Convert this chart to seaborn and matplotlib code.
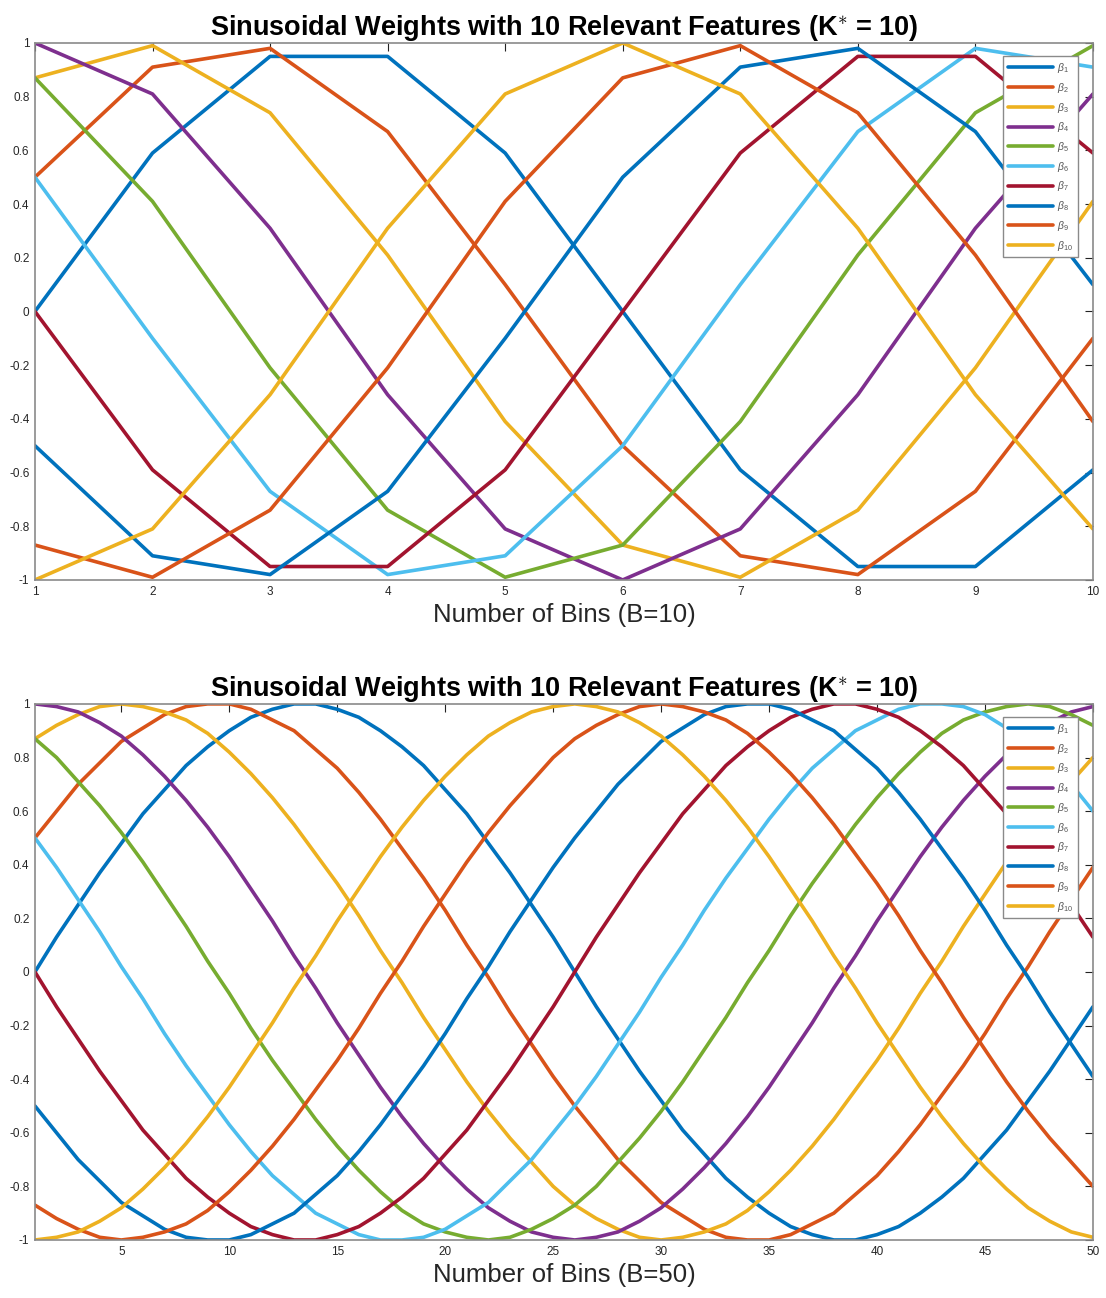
import numpy as np
import pandas as pd
import matplotlib
matplotlib.use("Agg")
import matplotlib.pyplot as plt
import seaborn as sns

# ---------------- data ----------------
x_b10 = list(range(1, 11))
b10_beta1 = [0.00, 0.59, 0.95, 0.95, 0.59, 0.00, -0.59, -0.95, -0.95, -0.59]
b10_beta2 = [0.50, 0.91, 0.98, 0.67, 0.10, -0.50, -0.91, -0.98, -0.67, -0.10]
b10_beta3 = [0.87, 0.99, 0.74, 0.21, -0.41, -0.87, -0.99, -0.74, -0.21, 0.41]
b10_beta4 = [1.00, 0.81, 0.31, -0.31, -0.81, -1.00, -0.81, -0.31, 0.31, 0.81]
b10_beta5 = [0.87, 0.41, -0.21, -0.74, -0.99, -0.87, -0.41, 0.21, 0.74, 0.99]
b10_beta6 = [0.50, -0.10, -0.67, -0.98, -0.91, -0.50, 0.10, 0.67, 0.98, 0.91]
b10_beta7 = [0.00, -0.59, -0.95, -0.95, -0.59, 0.00, 0.59, 0.95, 0.95, 0.59]
b10_beta8 = [-0.50, -0.91, -0.98, -0.67, -0.10, 0.50, 0.91, 0.98, 0.67, 0.10]
b10_beta9 = [-0.87, -0.99, -0.74, -0.21, 0.41, 0.87, 0.99, 0.74, 0.21, -0.41]
b10_beta10 = [-1.00, -0.81, -0.31, 0.31, 0.81, 1.00, 0.81, 0.31, -0.31, -0.81]

x_b50 = list(range(1, 51))
b50_beta1 = [0.00, 0.13, 0.25, 0.37, 0.48, 0.59, 0.68, 0.77, 0.84, 0.90,
             0.95, 0.98, 1.00, 1.00, 0.98, 0.95, 0.90, 0.84, 0.77, 0.68,
             0.59, 0.48, 0.37, 0.25, 0.13, 0.00, -0.13, -0.25, -0.37, -0.48,
             -0.59, -0.68, -0.77, -0.84, -0.90, -0.95, -0.98, -1.00, -1.00, -0.98,
             -0.95, -0.90, -0.84, -0.77, -0.68, -0.59, -0.48, -0.37, -0.25, -0.13]
b50_beta2 = [0.50, 0.60, 0.70, 0.78, 0.86, 0.91, 0.96, 0.99, 1.00, 1.00,
             0.98, 0.94, 0.90, 0.83, 0.76, 0.67, 0.57, 0.46, 0.35, 0.23,
             0.10, -0.02, -0.15, -0.27, -0.39, -0.50, -0.60, -0.70, -0.78, -0.86,
             -0.91, -0.96, -0.99, -1.00, -1.00, -0.98, -0.94, -0.90, -0.83, -0.76,
             -0.67, -0.57, -0.46, -0.35, -0.23, -0.10, 0.02, 0.15, 0.27, 0.39]
b50_beta3 = [0.87, 0.92, 0.96, 0.99, 1.00, 0.99, 0.97, 0.94, 0.89, 0.82,
             0.74, 0.65, 0.55, 0.44, 0.33, 0.21, 0.08, -0.04, -0.17, -0.29,
             -0.41, -0.52, -0.62, -0.71, -0.80, -0.87, -0.92, -0.96, -0.99, -1.00,
             -0.99, -0.97, -0.94, -0.89, -0.82, -0.74, -0.65, -0.55, -0.44, -0.33,
             -0.21, -0.08, 0.04, 0.17, 0.29, 0.41, 0.52, 0.62, 0.71, 0.80]
b50_beta4 = [1.00, 0.99, 0.97, 0.93, 0.88, 0.81, 0.73, 0.64, 0.54, 0.43,
             0.31, 0.19, 0.06, -0.06, -0.19, -0.31, -0.43, -0.54, -0.64, -0.73,
             -0.81, -0.88, -0.93, -0.97, -0.99, -1.00, -0.99, -0.97, -0.93, -0.88,
             -0.81, -0.73, -0.64, -0.54, -0.43, -0.31, -0.19, -0.06, 0.06, 0.19,
             0.31, 0.43, 0.54, 0.64, 0.73, 0.81, 0.88, 0.93, 0.97, 0.99]
b50_beta5 = [0.87, 0.80, 0.71, 0.62, 0.52, 0.41, 0.29, 0.17, 0.04, -0.08,
             -0.21, -0.33, -0.44, -0.55, -0.65, -0.74, -0.82, -0.89, -0.94, -0.97,
             -0.99, -1.00, -0.99, -0.96, -0.92, -0.87, -0.80, -0.71, -0.62, -0.52,
             -0.41, -0.29, -0.17, -0.04, 0.08, 0.21, 0.33, 0.44, 0.55, 0.65,
             0.74, 0.82, 0.89, 0.94, 0.97, 0.99, 1.00, 0.99, 0.96, 0.92]
b50_beta6 = [0.50, 0.39, 0.27, 0.15, 0.02, -0.10, -0.23, -0.35, -0.46, -0.57,
             -0.67, -0.76, -0.83, -0.90, -0.94, -0.98, -1.00, -1.00, -0.99, -0.96,
             -0.91, -0.86, -0.78, -0.70, -0.60, -0.50, -0.39, -0.27, -0.15, -0.02,
             0.10, 0.23, 0.35, 0.46, 0.57, 0.67, 0.76, 0.83, 0.90, 0.94,
             0.98, 1.00, 1.00, 0.99, 0.96, 0.91, 0.86, 0.78, 0.70, 0.60]
b50_beta7 = [0.00, -0.13, -0.25, -0.37, -0.48, -0.59, -0.68, -0.77, -0.84, -0.90,
             -0.95, -0.98, -1.00, -1.00, -0.98, -0.95, -0.90, -0.84, -0.77, -0.68,
             -0.59, -0.48, -0.37, -0.25, -0.13, 0.00, 0.13, 0.25, 0.37, 0.48,
             0.59, 0.68, 0.77, 0.84, 0.90, 0.95, 0.98, 1.00, 1.00, 0.98,
             0.95, 0.90, 0.84, 0.77, 0.68, 0.59, 0.48, 0.37, 0.25, 0.13]
b50_beta8 = [-0.50, -0.60, -0.70, -0.78, -0.86, -0.91, -0.96, -0.99, -1.00, -1.00,
             -0.98, -0.94, -0.90, -0.83, -0.76, -0.67, -0.57, -0.46, -0.35, -0.23,
             -0.10, 0.02, 0.15, 0.27, 0.39, 0.50, 0.60, 0.70, 0.78, 0.86,
             0.91, 0.96, 0.99, 1.00, 1.00, 0.98, 0.94, 0.90, 0.83, 0.76,
             0.67, 0.57, 0.46, 0.35, 0.23, 0.10, -0.02, -0.15, -0.27, -0.39]
b50_beta9 = [-0.87, -0.92, -0.96, -0.99, -1.00, -0.99, -0.97, -0.94, -0.89, -0.82,
             -0.74, -0.65, -0.55, -0.44, -0.33, -0.21, -0.08, 0.04, 0.17, 0.29,
             0.41, 0.52, 0.62, 0.71, 0.80, 0.87, 0.92, 0.96, 0.99, 1.00,
             0.99, 0.97, 0.94, 0.89, 0.82, 0.74, 0.65, 0.55, 0.44, 0.33,
             0.21, 0.08, -0.04, -0.17, -0.29, -0.41, -0.52, -0.62, -0.71, -0.80]
b50_beta10 = [-1.00, -0.99, -0.97, -0.93, -0.88, -0.81, -0.73, -0.64, -0.54, -0.43,
              -0.31, -0.19, -0.06, 0.06, 0.19, 0.31, 0.43, 0.54, 0.64, 0.73,
              0.81, 0.88, 0.93, 0.97, 0.99, 1.00, 0.99, 0.97, 0.93, 0.88,
              0.81, 0.73, 0.64, 0.54, 0.43, 0.31, 0.19, 0.06, -0.06, -0.19,
              -0.31, -0.43, -0.54, -0.64, -0.73, -0.81, -0.88, -0.93, -0.97, -0.99]

series_labels = [r'$\beta_{%d}$' % i for i in range(1, 11)]
y_ticks = [-1, -0.8, -0.6, -0.4, -0.2, 0, 0.2, 0.4, 0.6, 0.8, 1]
y_ticklabels = ['-1', '-0.8', '-0.6', '-0.4', '-0.2', '0', '0.2', '0.4', '0.6', '0.8', '1']
x_ticks_b10 = list(range(1, 11))
x_ticks_b50 = [5, 10, 15, 20, 25, 30, 35, 40, 45, 50]
title_text = r'Sinusoidal Weights with 10 Relevant Features (K$^{\ast}$ = 10)'

colors = ['#0072BD', '#D95319', '#EDB120', '#7E2F8E', '#77AC30',
          '#4DBEEE', '#A2142F', '#0072BD', '#D95319', '#EDB120']

b10_all = [b10_beta1, b10_beta2, b10_beta3, b10_beta4, b10_beta5,
           b10_beta6, b10_beta7, b10_beta8, b10_beta9, b10_beta10]
b50_all = [b50_beta1, b50_beta2, b50_beta3, b50_beta4, b50_beta5,
           b50_beta6, b50_beta7, b50_beta8, b50_beta9, b50_beta10]


def long_df(xs, all_series):
    rows = []
    for lab, ys in zip(series_labels, all_series):
        for xv, yv in zip(xs, ys):
            rows.append((xv, yv, lab))
    return pd.DataFrame(rows, columns=['bin', 'weight', 'feature'])


df10 = long_df(x_b10, b10_all)
df50 = long_df(x_b50, b50_all)

# ---------------- style ----------------
sns.set_style('white')
plt.rcParams['font.family'] = ['Liberation Sans', 'DejaVu Sans']
plt.rcParams['mathtext.fontset'] = 'custom'
plt.rcParams['mathtext.rm'] = 'Liberation Sans'
plt.rcParams['mathtext.it'] = 'Liberation Sans:italic'
plt.rcParams['mathtext.bf'] = 'Liberation Sans:bold'

fig = plt.figure(figsize=(11.06, 12.98), dpi=100)
ax1 = fig.add_axes([0.0316, 0.5532, 0.9566, 0.4137])
ax2 = fig.add_axes([0.0316, 0.0447, 0.9566, 0.4130])

spine_col = '#8a8a8a'


def style_ax(ax, df, xlim, xticks, xlabel):
    sns.lineplot(data=df, x='bin', y='weight', hue='feature',
                 hue_order=series_labels, palette=colors, linewidth=2.6,
                 ax=ax, legend=False, estimator=None, sort=False)
    ax.set_xlim(*xlim)
    ax.set_ylim(-1, 1)
    ax.set_xticks(xticks)
    ax.set_xticklabels([str(t) for t in xticks])
    ax.set_yticks(y_ticks)
    ax.set_yticklabels(y_ticklabels)
    ax.tick_params(axis='both', which='both', direction='in', length=6,
                   width=0.8, color='#222222', labelsize=8.5, labelcolor='#262626',
                   top=True, right=True, pad=4)
    for s in ax.spines.values():
        s.set_visible(True)
        s.set_color(spine_col)
        s.set_linewidth(1.2)
    ax.set_xlabel(xlabel, fontsize=18.5, color='#262626', labelpad=4)
    ax.set_ylabel('')
    ax.set_title(title_text, fontsize=19.5, fontweight='bold', color='black', pad=6)
    leg = ax.legend(handles=ax.lines[:10], labels=series_labels,
                    loc='upper right', bbox_to_anchor=(0.9855, 0.975),
                    fontsize=7.5, frameon=True, fancybox=False,
                    framealpha=1.0, edgecolor='#8a8a8a',
                    handlelength=4.3, handletextpad=0.4,
                    labelspacing=0.55, borderpad=0.45, borderaxespad=0.0)
    leg.get_frame().set_linewidth(1.0)
    for t in leg.get_texts():
        t.set_color('#555555')


style_ax(ax1, df10, (1, 10), x_ticks_b10, 'Number of Bins (B=10)')
style_ax(ax2, df50, (1, 50), x_ticks_b50, 'Number of Bins (B=50)')

fig.savefig('out.png', dpi=100)
